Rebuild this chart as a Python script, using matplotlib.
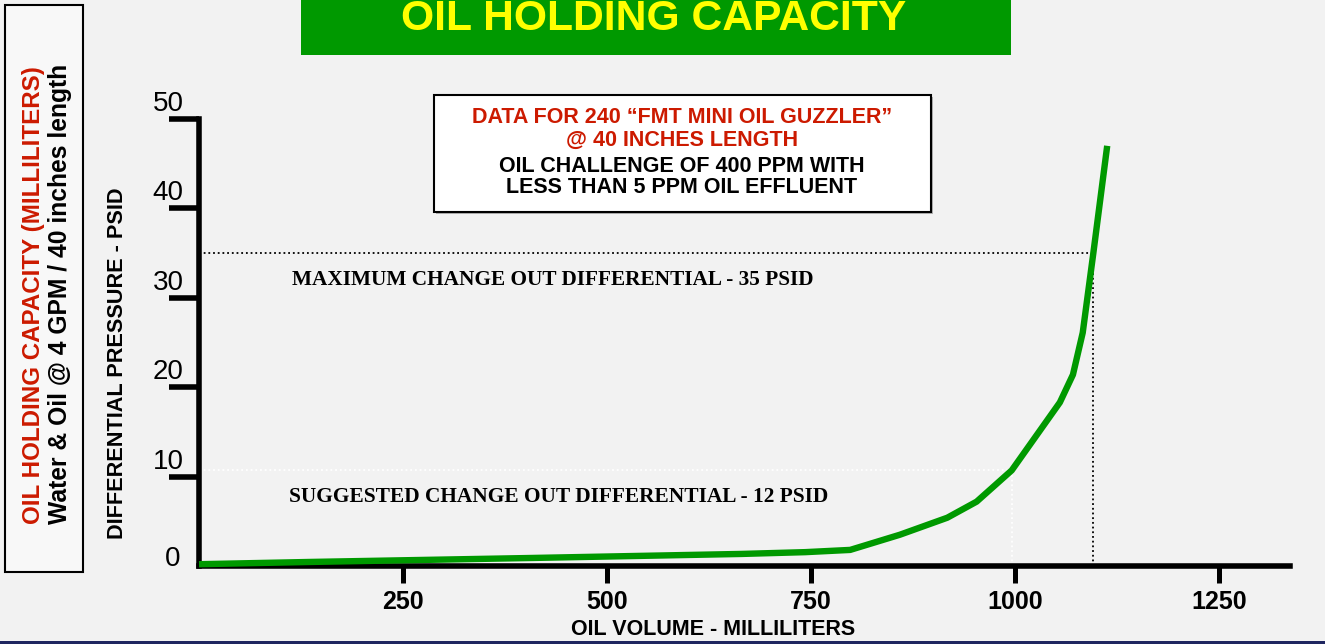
import matplotlib.pyplot as plt
from matplotlib.patches import Rectangle

plt.rcParams['font.family'] = ['Liberation Sans', 'DejaVu Sans']

# valores
volume_ml = [0, 135, 409, 665, 743, 798, 859, 917, 953, 996, 1055, 1071, 1083, 1096, 1113]
pressure_psid = [0.2, 0.45, 0.9, 1.35, 1.55, 1.8, 3.5, 5.4, 7.2, 10.7, 18.3, 21.4, 26.1, 35, 47.0]

x_ticks = [250, 500, 750, 1000, 1250]
y_ticks = [0, 10, 20, 30, 40, 50]

max_psid, max_volume = 35, 1096
sugg_psid, sugg_volume = 10.7, 996

W, H = 1325, 644
bg = '#F2F2F2'
red = '#CC1A00'
green = '#009900'


def fx(px):
    return px / W


def fy(py):
    return 1 - py / H


fig = plt.figure(figsize=(W / 100, H / 100), dpi=100, facecolor=bg)

# ejes
left, right, top, bottom = 199, 1290, 119, 566
ax = fig.add_axes([fx(left), fy(bottom), (right - left) / W, (bottom - top) / H])
ax.set_facecolor('none')
ax.set_xlim(0, (right - left) / 0.816)
ax.set_ylim(0, 50)

for s in ['top', 'right']:
    ax.spines[s].set_visible(False)
for s in ['left', 'bottom']:
    ax.spines[s].set_linewidth(4)
    ax.spines[s].set_color('black')

# curva
ax.plot(volume_ml, pressure_psid, color=green, linewidth=4.6,
        solid_capstyle='butt', clip_on=False, zorder=3)

# lineas punteadas
ax.plot([0, max_volume], [max_psid, max_psid], color='black', lw=1.3,
        linestyle=(0, (1, 1.6)), zorder=2)
ax.plot([max_volume, max_volume], [0, max_psid], color='black', lw=1.3,
        linestyle=(0, (1, 1.6)), zorder=2)
ax.plot([0, sugg_volume], [sugg_psid, sugg_psid], color='white', lw=1.3,
        linestyle=(0, (1, 1.6)), zorder=2)
ax.plot([sugg_volume, sugg_volume], [0, sugg_psid], color='white', lw=1.3,
        linestyle=(0, (1, 1.6)), zorder=2)

# ticks x
ax.set_xticks(x_ticks)
ax.set_xticklabels([str(v) for v in x_ticks], fontsize=18, fontweight='bold')
ax.tick_params(axis='x', length=12, width=3.6, direction='out', pad=5)

# ticks y (etiquetas encima de la marca)
ax.set_yticks(y_ticks[1:])
ax.set_yticklabels([])
ax.tick_params(axis='y', length=21.6, width=4, direction='out')
for v in y_ticks:
    ax.annotate(str(v), xy=(0, v), xycoords=('axes fraction', 'data'),
                xytext=(-26 if v == 0 else -31, 0 if v == 0 else 8),
                textcoords='offset pixels', ha='center', va='baseline',
                fontsize=20, annotation_clip=False)

# textos de limites
ax.annotate('MAXIMUM CHANGE OUT DIFFERENTIAL - 35 PSID', xy=(fx(292), fy(285)),
            xycoords='figure fraction', ha='left', va='baseline',
            fontsize=15.3, fontweight='bold', family='Liberation Serif')
ax.annotate('SUGGESTED CHANGE OUT DIFFERENTIAL - 12 PSID', xy=(fx(289), fy(502)),
            xycoords='figure fraction', ha='left', va='baseline',
            fontsize=15.4, fontweight='bold', family='Liberation Serif')

# etiquetas de ejes
fig.text(fx(713), fy(635), 'OIL VOLUME - MILLILITERS', ha='center', va='baseline',
         fontsize=15.5, fontweight='bold')
fig.text(fx(117.5), fy(363), 'DIFFERENTIAL PRESSURE - PSID', ha='center', va='center',
         rotation=90, fontsize=15.6, fontweight='bold')

# titulo verde
fig.patches.append(Rectangle((fx(301), fy(55)), (1011 - 301) / W, 55 / H,
                             transform=fig.transFigure, facecolor=green,
                             edgecolor='none', zorder=1))
fig.text(fx(654), fy(30), 'OIL HOLDING CAPACITY', ha='center', va='baseline',
         fontsize=30.7, fontweight='bold', color='#FFFF00')

# caja izquierda
fig.patches.append(Rectangle((fx(5), fy(572)), 78 / W, 567 / H,
                             transform=fig.transFigure, facecolor='#F8F8F8',
                             edgecolor='black', linewidth=1.5, zorder=1))
fig.text(fx(34), fy(295), 'OIL HOLDING CAPACITY (MILLILITERS)', ha='center', va='center',
         rotation=90, fontsize=17.4, fontweight='bold', color=red)
fig.text(fx(60), fy(294), 'Water & Oil @ 4 GPM / 40 inches length', ha='center', va='center',
         rotation=90, fontsize=17.7, fontweight='bold', color='black')

# caja de datos
fig.patches.append(Rectangle((fx(436), fy(214)), (931 - 434) / W, (212 - 95) / H,
                             transform=fig.transFigure, facecolor='#B0B0B0',
                             edgecolor='none', zorder=1))
fig.patches.append(Rectangle((fx(434), fy(212)), (931 - 434) / W, (212 - 95) / H,
                             transform=fig.transFigure, facecolor='white',
                             edgecolor='black', linewidth=1.5, zorder=1))
box_lines = ['DATA FOR 240 \u201cFMT MINI OIL GUZZLER\u201d', '@ 40 INCHES LENGTH',
             'OIL CHALLENGE OF 400 PPM WITH', 'LESS THAN 5 PPM OIL EFFLUENT']
box_colors = [red, red, 'black', 'black']
box_base = [123, 146, 172, 193]
for txt, c, b in zip(box_lines, box_colors, box_base):
    fig.text(fx(682), fy(b), txt, ha='center', va='baseline', fontsize=15.5,
             fontweight='bold', color=c)

# linea inferior
fig.patches.append(Rectangle((0, 0), 1, 3 / H, transform=fig.transFigure,
                             facecolor='#1F2660', edgecolor='none', zorder=1))

fig.savefig('out.png', dpi=100, facecolor=bg)
